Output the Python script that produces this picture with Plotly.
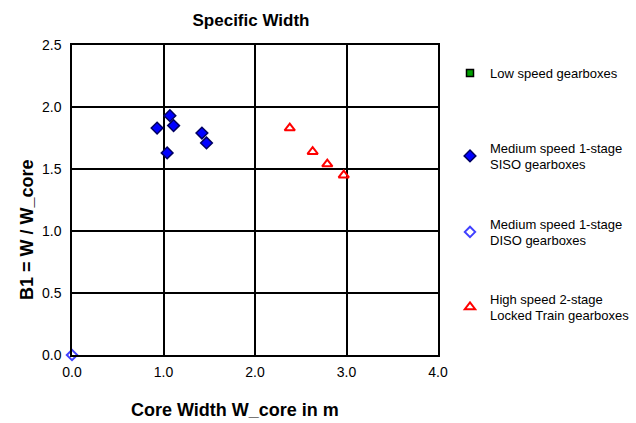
import plotly.graph_objects as go

# Data
low_x, low_y = [], []
siso_x = [0.93, 1.07, 1.11, 1.04, 1.42, 1.47]
siso_y = [1.83, 1.93, 1.85, 1.63, 1.79, 1.71]
diso_x = [0.0]
diso_y = [0.0]
high_x = [2.38, 2.63, 2.79, 2.97]
high_y = [1.83, 1.64, 1.54, 1.45]

x_ticks = [0, 1, 2, 3, 4]
y_ticks = [0, 0.5, 1.0, 1.5, 2.0, 2.5]

names = ["Low speed gearboxes",
         "Medium speed 1-stage<br>SISO gearboxes",
         "Medium speed 1-stage<br>DISO gearboxes",
         "High speed 2-stage<br>Locked Train gearboxes"]

fig = go.Figure()
fig.add_trace(go.Scatter(x=low_x if low_x else [None], y=low_y if low_y else [None], mode="markers", name=names[0],
                         marker=dict(symbol="square", size=7, color="#00A000", line=dict(color="black", width=1.5)),
                         legend="legend"))
fig.add_trace(go.Scatter(x=siso_x, y=siso_y, mode="markers", name=names[1],
                         marker=dict(symbol="diamond", size=9, color="#0000FF", line=dict(color="#000060", width=1.5)),
                         legend="legend2"))
fig.add_trace(go.Scatter(x=diso_x, y=diso_y, mode="markers", name=names[2],
                         marker=dict(symbol="diamond-open", size=8, color="#4040FF", line=dict(width=2)),
                         legend="legend3", cliponaxis=False))
fig.add_trace(go.Scatter(x=high_x, y=high_y, mode="markers", name=names[3],
                         marker=dict(symbol="triangle-up-open", size=9, color="#FF0000", line=dict(width=2)),
                         legend="legend4"))

leg_common = dict(xref="container", yref="container", x=450 / 636, xanchor="left", yanchor="middle",
                  font=dict(family="Arial", size=13, color="black"), bgcolor="rgba(0,0,0,0)",
                  itemwidth=30)
ys = [73, 156, 232, 307]
fig.update_layout(
    legend=dict(**leg_common, y=1 - ys[0] / 423),
    legend2=dict(**leg_common, y=1 - ys[1] / 423),
    legend3=dict(**leg_common, y=1 - ys[2] / 423),
    legend4=dict(**leg_common, y=1 - ys[3] / 423),
)

axis_common = dict(showline=True, mirror=True, linecolor="black", linewidth=1.5,
                   showgrid=True, gridcolor="black", gridwidth=1.5, zeroline=False,
                   tickformat=".1f", ticks="", tickfont=dict(family="Arial", size=14, color="black"))
fig.update_xaxes(range=[0, 4], tickvals=x_ticks, ticklabelstandoff=3, **axis_common)
fig.update_yaxes(range=[0, 2.5], tickvals=y_ticks, ticklabelstandoff=6, **axis_common)

fig.add_annotation(text="<b>Core Width W_core in m</b>", xref="paper", yref="paper",
                   x=(235 - 72) / 366, y=-(410 - 355) / 310, xanchor="center", yanchor="middle",
                   showarrow=False, font=dict(family="Arial", size=18, color="black"))
fig.add_annotation(text="<b>B1 = W / W_core</b>", xref="paper", yref="paper", textangle=-90,
                   x=-(72 - 27) / 366, y=(355 - 230) / 310, xanchor="center", yanchor="middle",
                   showarrow=False, font=dict(family="Arial", size=18, color="black"))

fig.update_layout(
    width=636, height=423,
    margin=dict(l=72, r=198, t=45, b=68, autoexpand=False),
    paper_bgcolor="white", plot_bgcolor="white",
    title=dict(text="<b>Specific Width</b>", x=251 / 636, xanchor="center", y=1 - 20 / 423,
               yanchor="middle", font=dict(family="Arial", size=17, color="black")),
    showlegend=True,
)
fig.write_html("out.html")
